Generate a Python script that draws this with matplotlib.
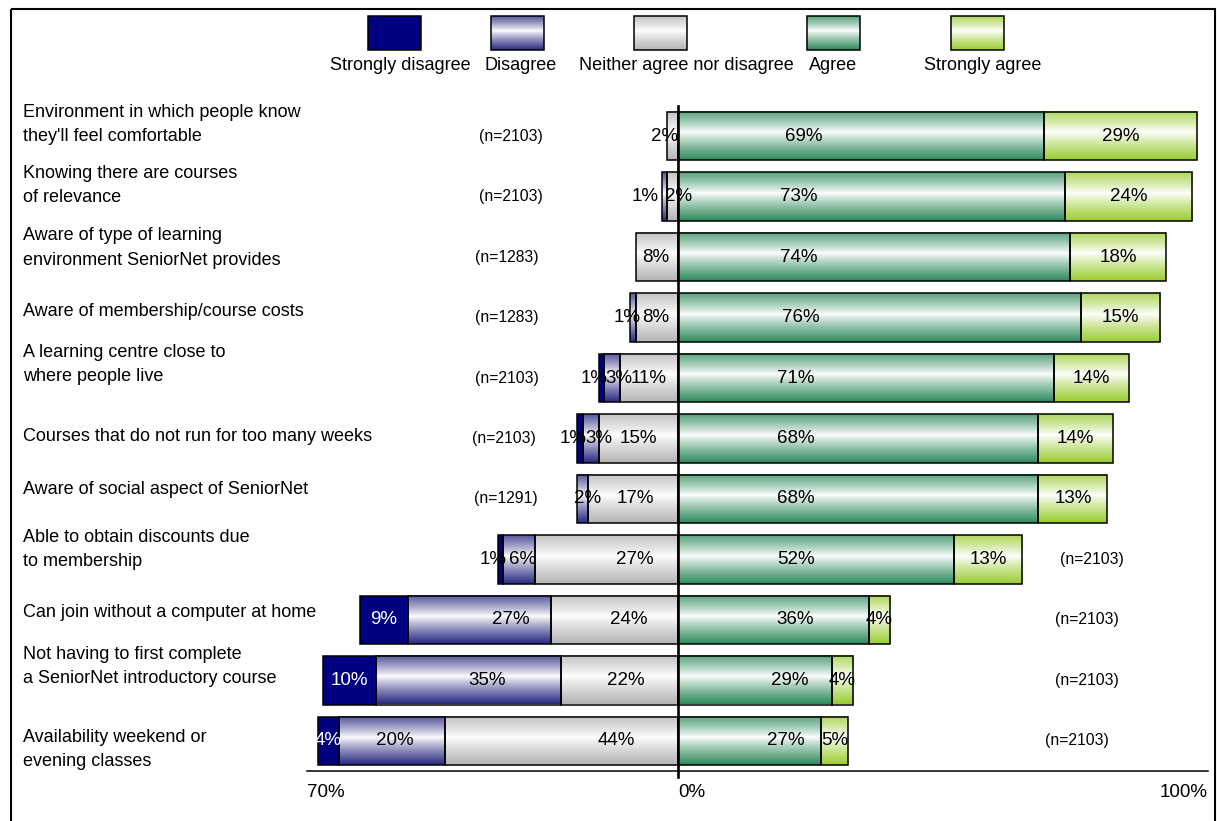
import numpy as np
import matplotlib
matplotlib.use('Agg')
import matplotlib.pyplot as plt
from matplotlib.colors import to_rgb
from matplotlib.patches import Rectangle
import matplotlib.transforms as mtransforms

plt.rcParams['font.family'] = ['Liberation Sans', 'DejaVu Sans']

# survey items, top to bottom
categorias = [
    "Environment in which people know\nthey'll feel comfortable",
    "Knowing there are courses\nof relevance",
    "Aware of type of learning\nenvironment SeniorNet provides",
    "Aware of membership/course costs",
    "A learning centre close to\nwhere people live",
    "Courses that do not run for too many weeks",
    "Aware of social aspect of SeniorNet",
    "Able to obtain discounts due\nto membership",
    "Can join without a computer at home",
    "Not having to first complete\na SeniorNet introductory course",
    "Availability weekend or\nevening classes",
]
n_resp = [2103, 2103, 1283, 1283, 2103, 2103, 1291, 2103, 2103, 2103, 2103]

muy_desacuerdo = [0, 0, 0, 0, 1, 1, 0, 1, 9, 10, 4]
desacuerdo = [0, 1, 0, 1, 3, 3, 2, 6, 27, 35, 20]
neutral = [2, 2, 8, 8, 11, 15, 17, 27, 24, 22, 44]
acuerdo = [69, 73, 74, 76, 71, 68, 68, 52, 36, 29, 27]
muy_acuerdo = [29, 24, 18, 15, 14, 14, 13, 13, 4, 4, 5]

leyenda = ['Strongly disagree', 'Disagree', 'Neither agree nor disagree',
           'Agree', 'Strongly agree']
colores = ['#000080', '#2a2a82', '#b4b4b4', '#2e8a5c', '#9acd32']

# where the value labels sit (x, in %)
x_lbl_des = [-6.2, -6.2, 0, -9.6, -11.1, -14.9, -17.0, -29.4, -31.5, -36.0, -53.4]
x_lbl_neu = [-2.5, 0.2, -4.2, -4.3, -5.5, -7.4, -8.1, -8.1, -9.2, -9.8, -11.7]
x_lbl_acu = [23.8, 22.8, 22.8, 23.2, 22.3, 22.3, 22.3, 22.3, 22.1, 21.0, 20.4]
x_lbl_n = [-31.5, -31.5, -32.3, -32.3, -32.3, -32.8, -32.5, 78.0, 77.2, 77.2, 75.3]
dy_cat = [-0.2, -0.18, -0.15, -0.1, -0.23, -0.03, -0.15, -0.17, -0.12, -0.23, 0.15]


def degradado(color, n=80):
    # colour at top and bottom edges, white band just above the middle
    t = np.linspace(0, 1, n)
    m = np.clip(np.abs(t - 0.43) / 0.57, 0, 1) ** 0.85
    rgb = np.array(to_rgb(color))
    img = (1 - m)[:, None] + m[:, None] * rgb[None, :]
    return img[:, None, :]


fig = plt.figure(figsize=(12.17, 8.21), dpi=100)
fondo = fig.add_axes([0, 0, 1, 1], zorder=0)
fondo.set_xlim(0, 1217)
fondo.set_ylim(821, 0)
fondo.axis('off')

ax = fig.add_axes([307 / 1217, 50 / 821, 901 / 1217, 665 / 821], zorder=1)
ax.patch.set_alpha(0)

alto = 0.8


def tramo(x0, ancho, y, color, plano=False):
    if ancho <= 0:
        return
    if plano:
        ax.add_patch(Rectangle((x0, y - alto / 2), ancho, alto, facecolor=color,
                               edgecolor='black', lw=1.1, zorder=3))
        return
    ax.imshow(degradado(color), extent=(x0, x0 + ancho, y + alto / 2, y - alto / 2),
              aspect='auto', interpolation='bilinear', zorder=2)
    ax.add_patch(Rectangle((x0, y - alto / 2), ancho, alto, fill=False,
                           edgecolor='black', lw=1.1, zorder=3))


for i in range(len(categorias)):
    sd, d, ne = muy_desacuerdo[i], desacuerdo[i], neutral[i]
    a, sa = acuerdo[i], muy_acuerdo[i]
    # left side: neutral next to zero, then disagree, then strongly disagree
    tramo(-ne, ne, i, colores[2])
    tramo(-ne - d, d, i, colores[1])
    tramo(-ne - d - sd, sd, i, colores[0], plano=True)
    tramo(0, a, i, colores[3])
    tramo(a, sa, i, colores[4])

    kw = dict(ha='center', va='center', fontsize=13.5, zorder=5)
    if sd > 0:
        xc = -ne - d - sd / 2
        if sd < 3:
            xc -= 1.3
        ax.text(xc, i, f'{sd}%', color='white' if sd >= 4 else 'black', **kw)
    if d > 0:
        ax.text(x_lbl_des[i], i, f'{d}%', **kw)
    ax.text(x_lbl_neu[i], i, f'{ne}%', **kw)
    ax.text(x_lbl_acu[i], i, f'{a}%', **kw)
    ax.text(a + sa / 2, i, f'{sa}%', **kw)
    ax.text(x_lbl_n[i], i, f'(n={n_resp[i]})', ha='center', va='center',
            fontsize=11.3, zorder=5)

# item names on the left margin
trans = mtransforms.blended_transform_factory(fig.transFigure, ax.transData)
for i, cat in enumerate(categorias):
    ax.text(23 / 1217, i + dy_cat[i], cat, transform=trans, ha='left', va='center',
            fontsize=13, linespacing=1.55, clip_on=False)

# zero line
ax.plot([0, 0], [-0.5, 10.6], color='black', lw=1.9, zorder=6, clip_on=False)

ax.set_xlim(-70, 100)
ax.set_ylim(10.5, -0.5)
for lado in ['top', 'left', 'right']:
    ax.spines[lado].set_visible(False)
ax.spines['bottom'].set_linewidth(1.1)
ax.set_yticks([])
ax.set_xticks([-70, 0, 100])
ax.set_xticklabels(['70%', '0%', '100%'], fontsize=13.5)
ax.tick_params(axis='x', length=0, pad=9)
for lbl, ha in zip(ax.get_xticklabels(), ['left', 'left', 'right']):
    lbl.set_ha(ha)

# legend drawn in pixel space across the top
cajas_x = [368, 491, 634, 807, 951]
textos_x = [400, 521, 686, 833, 983]
for k, (nombre, col) in enumerate(zip(leyenda, colores)):
    x0 = cajas_x[k]
    if k == 0:
        fondo.add_patch(Rectangle((x0, 16), 53, 34, facecolor=col,
                                  edgecolor='black', lw=1.1))
    else:
        fondo.imshow(degradado(col), extent=(x0, x0 + 53, 50, 16), aspect='auto',
                     interpolation='bilinear')
        fondo.add_patch(Rectangle((x0, 16), 53, 34, fill=False,
                                  edgecolor='black', lw=1.1))
    fondo.text(textos_x[k], 65, nombre, ha='center', va='center', fontsize=13)

fondo.set_xlim(0, 1217)
fondo.set_ylim(821, 0)

# outer frame
fondo.add_patch(Rectangle((11, 9), 1204, 830, fill=False, edgecolor='black',
                          lw=1.5, clip_on=False))

fig.savefig('out.png', dpi=100)
